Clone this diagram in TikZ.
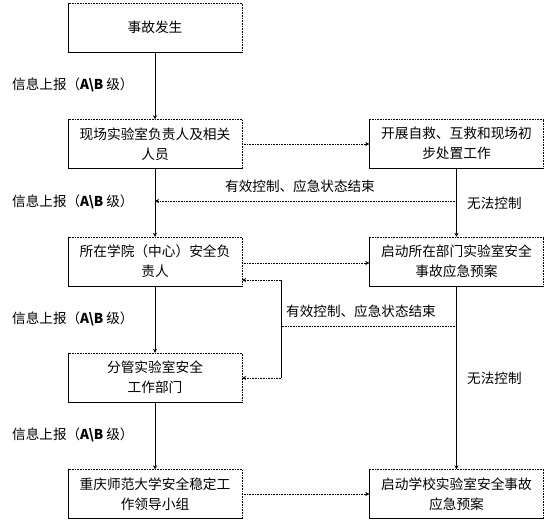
\documentclass[tikz,border=0pt]{standalone}
\usepackage{fontspec}
\setmainfont{Noto Sans CJK SC}
\usetikzlibrary{arrows.meta}
\tikzset{
  box/.style={minimum width=174pt,minimum height=49pt,inner sep=2pt,align=center,
    font=\fontsize{13.7}{20}\selectfont},
  lbl/.style={anchor=west,inner sep=0pt,font=\fontsize{13.6}{16}\selectfont},
  sarr/.style={line width=0.6pt,-{Stealth[length=4pt,width=4pt]}},
  darr/.style={line width=0.6pt,densely dotted,-{Stealth[length=4pt,width=4pt]}},
  dline/.style={line width=0.6pt,densely dotted},
  sline/.style={line width=0.6pt}
}
\newcommand{\lvl}{信息上报（\textbf{A\textbackslash B} 级）}
\begin{document}
\begin{tikzpicture}[x=1pt,y=-1pt]
\useasboundingbox (0,0) rectangle (553,523);
% boxes
\node[box] (b1) at (155,27.5) {事故发生};
\node[box] (b2) at (155,144) {现场实验室负责人及相关\\人员};
\node[box] (b3) at (456.5,143.5) {开展自救、互救和现场初\\步处置工作};
\node[box] (b4) at (155,261.5) {所在学院（中心）安全负\\责人};
\node[box] (b5) at (456.5,261.5) {启动所在部门实验室安全\\事故应急预案};
\node[box] (b6) at (155,377.5) {分管实验室安全\\工作部门};
\node[box] (b7) at (155,494) {重庆师范大学安全稳定工\\作领导小组};
\node[box] (b8) at (456.5,494) {启动学校实验室安全事故\\应急预案};
\foreach \b in {b1,b2,b3,b4,b5,b6,b7,b8}{
  \draw[sline] (\b.north west) -- (\b.south west) -- (\b.south east);
  \draw[dline] (\b.south east) -- (\b.north east) -- (\b.north west);
}
% labels
\node[lbl] (l1) at (12,85) {\lvl};
\node[lbl] (l2) at (12,202) {\lvl};
\node[lbl] (l3) at (12,319) {\lvl};
\node[lbl] (l4) at (12,435) {\lvl};
\node[lbl] (e1) at (225,186) {有效控制、应急状态结束};
\node[lbl] (e2) at (286,311) {有效控制、应急状态结束};
\node[lbl] (w1) at (467,203) {无法控制};
\node[lbl] (w2) at (467,378) {无法控制};
% main vertical flow
\draw[sarr] (b1) -- (b2);
\draw[sarr] (b2) -- (b4);
\draw[sarr] (b4) -- (b6);
\draw[sarr] (b6) -- (b7);
\draw[sarr] (b3) -- (b5);
\draw[sarr] (b5) -- (b8);
% horizontal dotted arrows
\draw[darr] (b2.east) -- (b2.east -| b3.west);
\draw[darr] (b4.east) ++(0,1.5) coordinate (c4) -- (c4 -| b5.west);
\draw[darr] (b7.east) -- (b7.east -| b8.west);
% feedback 1
\coordinate (f1) at (456.5,201);
\draw[darr] (f1) -- (f1 -| b2.south);
% feedback 2
\coordinate (f2) at (456.5,326);
\coordinate (j) at (281,326);
\coordinate (ja) at (281,280);
\coordinate (jb) at (281,378);
\draw[dline] (f2) -- (j);
\draw[sline] (ja) -- (jb);
\draw[darr] (ja) -- (ja -| b4.east);
\draw[darr] (jb) -- (jb -| b6.east);
\end{tikzpicture}
\end{document}
